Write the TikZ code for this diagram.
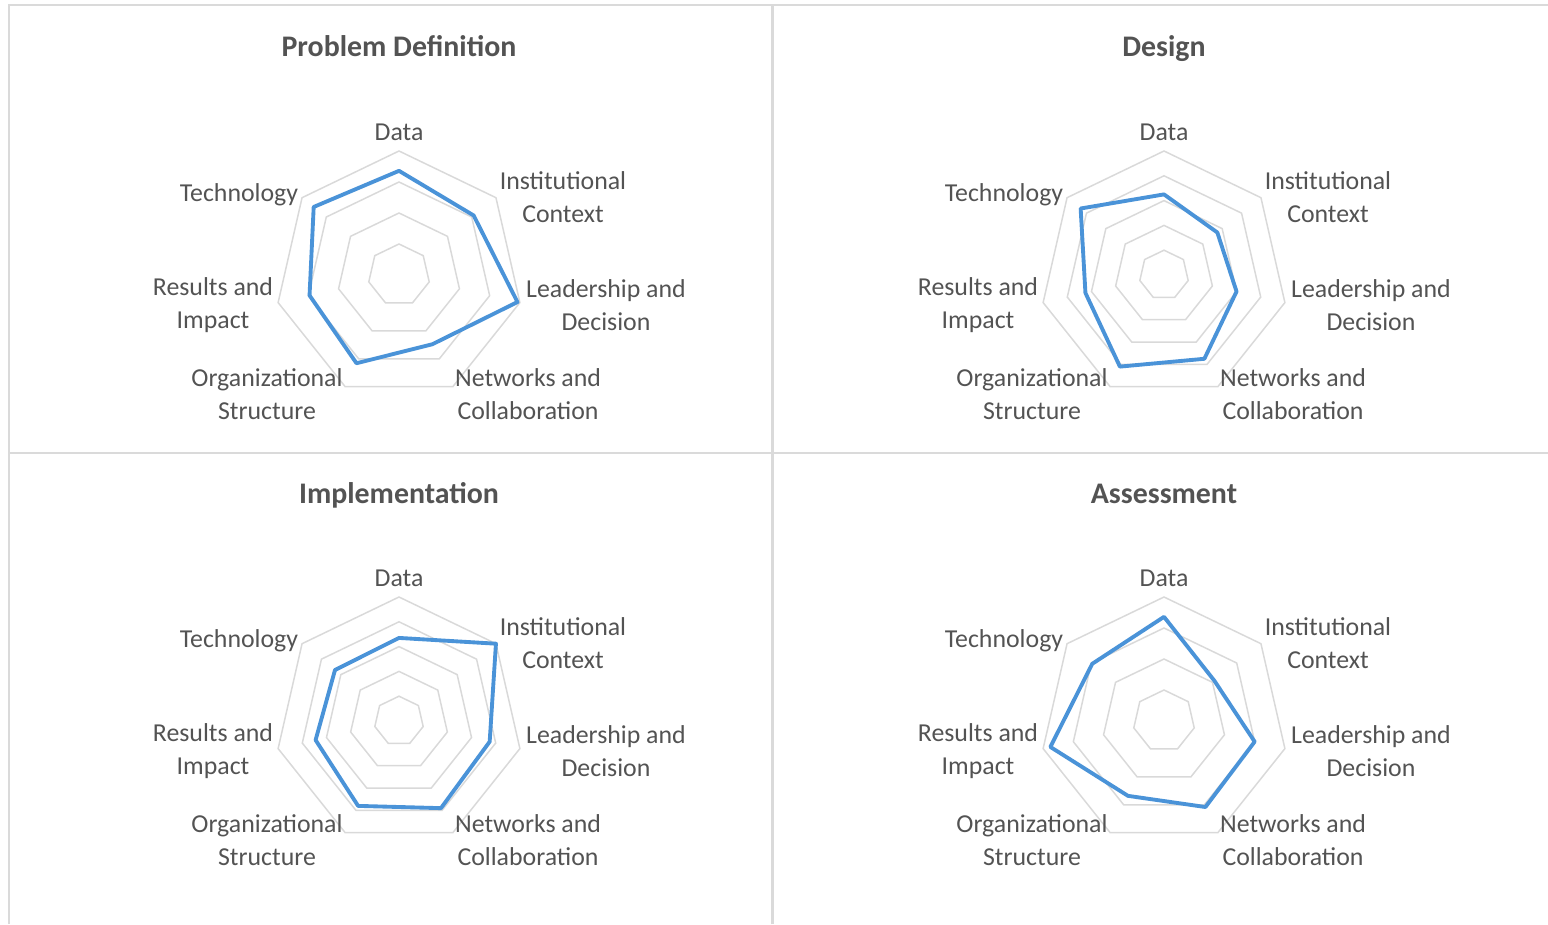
\documentclass[tikz,border=0pt]{standalone}
\usepackage{fontspec}
\setmainfont{Carlito}
\definecolor{ringgray}{HTML}{D9D9D9}
\definecolor{framegray}{HTML}{DADADA}
\definecolor{labgray}{HTML}{535353}
\definecolor{valblue}{HTML}{4A93D8}
\newcommand{\labfont}{\fontsize{14.7}{18.7}\selectfont}
\newcommand{\ttlfont}{\fontsize{17}{20}\selectfont\bfseries}

\begin{document}
\begin{tikzpicture}[
		x=0.02cm, y=0.02cm,
		ring/.style={draw=ringgray, line width=0.85pt},
		val/.style={draw=valblue, line width=2.2pt, line join=round},
		lab/.style={text=labgray, font=\labfont, align=center, inner sep=0pt},
		ttl/.style={text=labgray, font=\ttlfont, inner sep=0pt, anchor=base},
		frame/.style={draw=framegray, line width=1.7pt}]
	\pgfmathsetmacro{\R}{124}
	%% canvas
	\useasboundingbox (0,0) rectangle (1548,924);
	%% panel frame
	\draw[frame] (9,0) -- (9,919) -- (1548,919);
	\draw[frame] (772,0) -- (772,919);
	\draw[frame] (9,471) -- (1548,471);
	%% charts
	\foreach \c/\cx/\cy/\nr/\chartname/\vals in {
		pd/399/649/4/Problem Definition/{0.84,0.77,0.98,0.62,0.79,0.74,0.88},
		ds/1164/649/5/Design/{0.65,0.55,0.60,0.75,0.82,0.65,0.86},
		im/399/203/5/Implementation/{0.67,1.0,0.75,0.78,0.76,0.69,0.66},
		as/1164/203/4/Assessment/{0.84,0.52,0.75,0.77,0.67,0.94,0.74}}
	{
	\begin{scope}[shift={(\cx,\cy)}]
		%% rings
		\foreach \i in {1,...,\nr}
			\draw[ring] (90:{\i*\R/\nr}) \foreach \k in {1,...,6} {-- ({90-\k*360/7}:{\i*\R/\nr})} -- cycle;
		%% values
		\foreach \v [count=\k from 0] in \vals
			\coordinate (\c-v\k) at ({90-\k*360/7}:{\v*\R});
		\draw[val] (\c-v0) -- (\c-v1) -- (\c-v2) -- (\c-v3) -- (\c-v4) -- (\c-v5) -- (\c-v6) -- cycle;
		%% axis labels
		\foreach \dx/\dy/\txt [count=\k] in {0/143/Data, 164/78/{Institutional\\Context},
				207/-30/{Leadership and\\Decision}, 129/-119/{Networks and\\Collaboration},
				-132/-119/{Organizational\\Structure}, -186/-30/{Results and\\Impact}, -160/80/Technology}
			\node[lab] (\c-l\k) at (\dx,\dy) {\txt};
		%% title
		\node[ttl] (\c-t) at (0,218) {\chartname};
	\end{scope}
	}
\end{tikzpicture}
\end{document}
